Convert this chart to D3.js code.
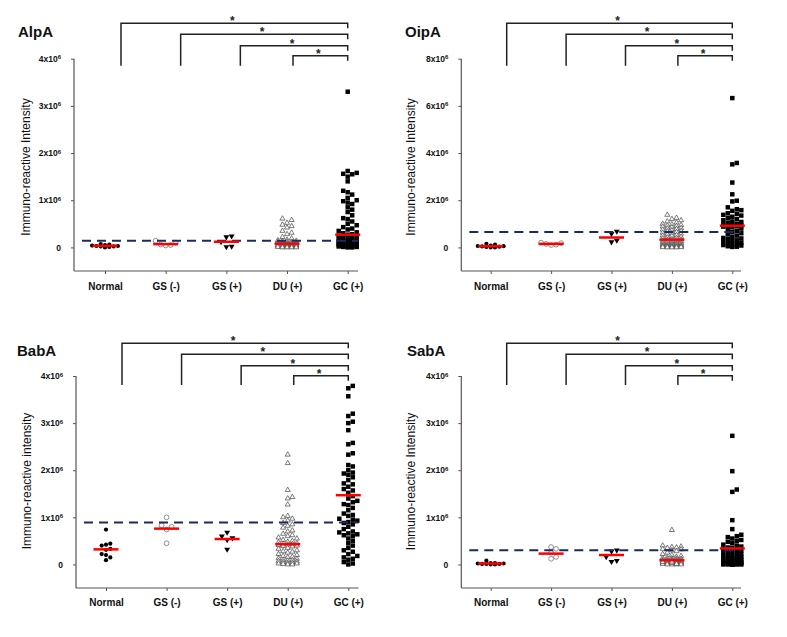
<!DOCTYPE html>
<html>
<head>
<meta charset="utf-8">
<script src="https://cdn.jsdelivr.net/npm/d3@7"></script>
<style>
  html, body { margin: 0; padding: 0; background: #fff; }
  svg { display: block; font-family: Arial, "Liberation Sans", sans-serif; }
</style>
</head>
<body>
<svg id="chart" width="787" height="637"></svg>
<script>
// ---------------- data (values in units of 10^6) ----------------
const categories = ["Normal", "GS (-)", "GS (+)", "DU (+)", "GC (+)"];
const panelTitles = ["AlpA", "OipA", "BabA", "SabA"];
const yAxisLabels = ["Immuno-reactive Intensity", "Immuno-reactive Intensity", "Immuno-reactive intensity", "Immuno-reactive Intensity"];
const yTicksAlpA = [0, 1, 2, 3, 4];
const yTicksOipA = [0, 2, 4, 6, 8];
const yTicksBabA = [0, 1, 2, 3, 4];
const yTicksSabA = [0, 1, 2, 3, 4];
const tickExponent = "6";
const cutoffs = [0.14, 0.65, 0.89, 0.30];
const comparisons = [["Normal", "GC (+)"], ["GS (-)", "GC (+)"], ["GS (+)", "GC (+)"], ["DU (+)", "GC (+)"]];
const comparisonMarks = ["*", "*", "*", "*"];

// medians (red bars) per category
const medAlpA = [0.035, 0.07, 0.12, 0.08, 0.27];
const medOipA = [0.05, 0.15, 0.42, 0.33, 0.92];
const medBabA = [0.32, 0.76, 0.54, 0.43, 1.47];
const medSabA = [0.02, 0.23, 0.20, 0.09, 0.34];

// AlpA
const alpANormal = [0.0, 0.01, 0.02, 0.02, 0.03, 0.04, 0.05, 0.06, 0.07, 0.03];
const alpAGSneg = [0.04, 0.05, 0.06, 0.10, 0.14];
const alpAGSpos = [0.01, 0.02, 0.12, 0.22, 0.24];
const alpADU = [0.61, 0.58, 0.52, 0.48, 0.45, 0.42, 0.35, 0.31, 0.28, 0.22, 0.19, 0.16, 0.15, 0.14, 0.13, 0.12, 0.12, 0.11, 0.10, 0.10, 0.09, 0.09, 0.08, 0.08, 0.08, 0.07, 0.07, 0.06, 0.06, 0.05, 0.05, 0.05, 0.04, 0.04, 0.04, 0.03, 0.03, 0.03, 0.02, 0.02, 0.02, 0.02, 0.01, 0.01, 0.01, 0.01, 0.0, 0.0, 0.0, 0.0];
const alpAGC = [3.30, 1.62, 1.58, 1.56, 1.55, 1.50, 1.40, 1.20, 1.17, 1.12, 1.05, 1.00, 0.98, 0.95, 0.92, 0.85, 0.80, 0.75, 0.68, 0.62, 0.60, 0.55, 0.50, 0.47, 0.43, 0.40, 0.38, 0.35, 0.32, 0.30, 0.28, 0.27, 0.25, 0.24, 0.22, 0.20, 0.20, 0.18, 0.17, 0.15, 0.15, 0.14, 0.13, 0.12, 0.12, 0.10, 0.10, 0.09, 0.08, 0.07, 0.06, 0.06, 0.05, 0.04, 0.04, 0.03, 0.03, 0.02, 0.02, 0.01, 0.01, 0.0, 0.0];

// OipA
const oipANormal = [0.0, 0.0, 0.02, 0.03, 0.04, 0.05, 0.06, 0.08, 0.12, 0.15];
const oipAGSneg = [0.10, 0.12, 0.15, 0.18, 0.20];
const oipAGSpos = [0.23, 0.30, 0.58, 0.68];
const oipADU = [1.38, 1.25, 1.20, 1.15, 1.10, 1.05, 1.00, 0.98, 0.95, 0.92, 0.90, 0.88, 0.85, 0.82, 0.80, 0.78, 0.75, 0.72, 0.70, 0.68, 0.65, 0.62, 0.60, 0.58, 0.55, 0.52, 0.50, 0.48, 0.45, 0.42, 0.40, 0.38, 0.35, 0.33, 0.32, 0.30, 0.28, 0.27, 0.25, 0.24, 0.22, 0.20, 0.20, 0.18, 0.17, 0.15, 0.14, 0.13, 0.12, 0.10, 0.10, 0.09, 0.08, 0.07, 0.06, 0.05, 0.05, 0.04, 0.03, 0.03, 0.02, 0.02, 0.01, 0.01, 0.0, 0.0, 0.0];
const oipAGC = [6.33, 3.58, 3.52, 2.75, 2.25, 1.98, 1.95, 1.70, 1.62, 1.58, 1.55, 1.45, 1.42, 1.38, 1.35, 1.30, 1.25, 1.20, 1.15, 1.10, 1.08, 1.05, 1.00, 0.98, 0.95, 0.93, 0.92, 0.90, 0.88, 0.85, 0.80, 0.75, 0.70, 0.65, 0.60, 0.55, 0.50, 0.45, 0.40, 0.38, 0.35, 0.30, 0.28, 0.25, 0.20, 0.18, 0.15, 0.12, 0.10, 0.08, 0.05, 0.03, 0.02];

// BabA
const babANormal = [0.74, 0.44, 0.42, 0.40, 0.33, 0.31, 0.22, 0.20, 0.15, 0.09];
const babAGSneg = [1.00, 0.83, 0.80, 0.74, 0.45];
const babAGSpos = [0.68, 0.60, 0.56, 0.52, 0.32];
const babADU = [2.33, 2.15, 1.58, 1.43, 1.40, 1.27, 1.03, 1.00, 0.97, 0.93, 0.88, 0.85, 0.82, 0.78, 0.72, 0.70, 0.65, 0.62, 0.60, 0.57, 0.55, 0.52, 0.50, 0.48, 0.47, 0.45, 0.44, 0.43, 0.42, 0.41, 0.40, 0.39, 0.38, 0.35, 0.33, 0.30, 0.28, 0.27, 0.25, 0.22, 0.20, 0.18, 0.16, 0.15, 0.13, 0.12, 0.10, 0.09, 0.08, 0.07, 0.06, 0.05, 0.04, 0.03, 0.02, 0.02, 0.01, 0.0, 0.0];
const babAGC = [3.79, 3.74, 3.57, 3.20, 3.15, 3.03, 3.00, 2.85, 2.58, 2.55, 2.36, 2.33, 2.11, 2.08, 2.00, 1.95, 1.93, 1.90, 1.85, 1.79, 1.72, 1.70, 1.65, 1.60, 1.57, 1.52, 1.45, 1.40, 1.35, 1.32, 1.28, 1.26, 1.20, 1.15, 1.08, 1.05, 1.03, 0.97, 0.95, 0.93, 0.90, 0.88, 0.85, 0.80, 0.75, 0.70, 0.68, 0.66, 0.64, 0.62, 0.60, 0.55, 0.50, 0.45, 0.40, 0.35, 0.30, 0.27, 0.22, 0.18, 0.15, 0.12, 0.10, 0.05, 0.02, 0.0];

// SabA
const sabANormal = [0.0, 0.0, 0.01, 0.01, 0.01, 0.02, 0.02, 0.03, 0.03, 0.08];
const sabAGSneg = [0.37, 0.33, 0.25, 0.16, 0.12];
const sabAGSpos = [0.30, 0.28, 0.16, 0.08, 0.06];
const sabADU = [0.73, 0.40, 0.38, 0.37, 0.36, 0.35, 0.33, 0.32, 0.30, 0.28, 0.25, 0.22, 0.20, 0.18, 0.16, 0.15, 0.14, 0.13, 0.12, 0.12, 0.11, 0.10, 0.10, 0.09, 0.09, 0.08, 0.08, 0.07, 0.07, 0.06, 0.06, 0.05, 0.05, 0.04, 0.04, 0.03, 0.03, 0.02, 0.02, 0.02, 0.01, 0.01, 0.0, 0.0, 0.0, 0.0, 0.01, 0.03, 0.05, 0.06];
const sabAGC = [2.73, 1.98, 1.59, 1.54, 0.94, 0.75, 0.63, 0.60, 0.58, 0.55, 0.52, 0.50, 0.48, 0.45, 0.42, 0.40, 0.38, 0.36, 0.35, 0.33, 0.32, 0.30, 0.28, 0.27, 0.25, 0.24, 0.22, 0.20, 0.20, 0.18, 0.17, 0.15, 0.15, 0.14, 0.12, 0.12, 0.10, 0.10, 0.09, 0.08, 0.07, 0.06, 0.05, 0.05, 0.04, 0.03, 0.03, 0.02, 0.02, 0.01, 0.01, 0.0, 0.0, 0.0, 0.0, 0.0, 0.0, 0.0, 0.0];

// ---------------- layout ----------------
const layouts = [
  { ox: 74,    yTop: 58.7, xAxisY: 271, cx0: 105,   cx1: 347.7, xEnd: 358,   titleX: 18,  titleY: 37,  ylabX: 26,   ylabY: 167,   catY: 289.5, brY: [23.3, 34.3, 45.7, 55.7],     brBottom: 65.7 },
  { ox: 461.3, yTop: 58.7, xAxisY: 271, cx0: 490.7, cx1: 732.3, xEnd: 741,   titleX: 405, titleY: 37,  ylabX: 410.5, ylabY: 167,  catY: 289.5, brY: [23.3, 34.3, 45.7, 55.7],     brBottom: 65.7 },
  { ox: 76,    yTop: 376,  xAxisY: 588, cx0: 106,   cx1: 348.3, xEnd: 358.5, titleX: 17,  titleY: 356, ylabX: 26.5, ylabY: 481,   catY: 606,   brY: [343.3, 354.3, 365.7, 375.7], brBottom: 385 },
  { ox: 461.3, yTop: 376,  xAxisY: 588, cx0: 490.7, cx1: 732.3, xEnd: 741,   titleX: 407, titleY: 356, ylabX: 410.5, ylabY: 481.5, catY: 606,  brY: [343.3, 354.3, 365.7, 375.7], brBottom: 385 }
];
const bracketLeftShift = [16, 15, 14, 6];

const panelData = [
  [alpANormal, alpAGSneg, alpAGSpos, alpADU, alpAGC],
  [oipANormal, oipAGSneg, oipAGSpos, oipADU, oipAGC],
  [babANormal, babAGSneg, babAGSpos, babADU, babAGC],
  [sabANormal, sabAGSneg, sabAGSpos, sabADU, sabAGC]
];
const panelMedians = [medAlpA, medOipA, medBabA, medSabA];
const panelTicks = [yTicksAlpA, yTicksOipA, yTicksBabA, yTicksSabA];

// marker styles per category
const markerStyles = [
  { type: d3.symbolCircle,   size: 14, fill: "#000", stroke: "none", rot: 0, diam: 4.3 },
  { type: d3.symbolCircle,   size: 18, fill: "#fff", stroke: "#666", rot: 0, diam: 5.0 },
  { type: d3.symbolTriangle, size: 15, fill: "#000", stroke: "none", rot: 180, diam: 5.3 },
  { type: d3.symbolTriangle, size: 11, fill: "#fff", stroke: "#444", rot: 0, diam: 4.6 },
  { type: d3.symbolSquare,   size: 20, fill: "#000", stroke: "none", rot: 0, diam: 4.5 }
];

const svg = d3.select("#chart");
svg.append("rect").attr("width", 787).attr("height", 637).attr("fill", "#fff");

function dodge(ys, diam, maxHalf) {
  const order = d3.range(ys.length).sort((a, b) => ys[b] - ys[a]);
  const placed = [];
  const xs = new Array(ys.length);
  const step = diam;
  const kMax = Math.floor(maxHalf / step);
  for (const i of order) {
    const y = ys[i];
    let best = 0, bestD = -1, found = false;
    for (let k = 0; k <= kMax && !found; k++) {
      const cands = k === 0 ? [0] : [k * step, -k * step];
      for (const cx of cands) {
        let d = Infinity;
        for (const p of placed) {
          const m = Math.max(Math.abs(p.x - cx), Math.abs(p.y - y));
          if (m < d) d = m;
        }
        if (d >= diam) { best = cx; found = true; break; }
        if (d > bestD) { bestD = d; best = cx; }
      }
    }
    placed.push({ x: best, y });
    xs[i] = best;
  }
  return xs;
}

panelTitles.forEach((title, pi) => {
  const L = layouts[pi];
  const ticks = panelTicks[pi];
  const yMax = ticks[ticks.length - 1];
  const y = d3.scaleLinear().domain([-yMax / 8, yMax]).range([L.xAxisY, L.yTop]);
  const x = d3.scalePoint().domain(categories).range([L.cx0, L.cx1]);
  const g = svg.append("g");

  // title
  g.append("text").attr("x", L.titleX).attr("y", L.titleY)
    .attr("font-size", 15).attr("font-weight", "bold").attr("fill", "#111").text(title);

  // y-axis label
  g.append("text")
    .attr("transform", `translate(${L.ylabX},${L.ylabY}) rotate(-90)`)
    .attr("text-anchor", "middle").attr("dy", "0.35em")
    .attr("font-size", 12).attr("fill", "#111").text(yAxisLabels[pi]);

  // y axis
  const yAxis = d3.axisLeft(y).tickValues(ticks).tickSize(3).tickPadding(10).tickSizeOuter(0);
  const ya = g.append("g").attr("transform", `translate(${L.ox},0)`).call(yAxis);
  ya.select(".domain").remove();
  ya.selectAll(".tick line").attr("stroke", "#555");
  ya.selectAll(".tick text").each(function (d) {
    const t = d3.select(this);
    t.text(null).attr("font-size", 8.5).attr("font-weight", "bold").attr("fill", "#111")
      .attr("font-family", "Arial, 'Liberation Sans', sans-serif");
    if (d === 0) {
      t.append("tspan").text("0");
    } else {
      t.append("tspan").text(d + "x10");
      t.append("tspan").attr("font-size", 6).attr("dy", "-0.45em").text(tickExponent);
    }
  });
  g.append("line").attr("x1", L.ox).attr("x2", L.ox)
    .attr("y1", y(yMax)).attr("y2", L.xAxisY).attr("stroke", "#555").attr("stroke-width", 1.2);

  // x axis
  const xAxis = d3.axisBottom(x).tickSize(3).tickPadding(9).tickSizeOuter(0);
  const xa = g.append("g").attr("transform", `translate(0,${L.xAxisY})`).call(xAxis);
  xa.select(".domain").remove();
  xa.selectAll(".tick line").attr("stroke", "#555");
  xa.selectAll(".tick text").attr("font-size", 10).attr("font-weight", "bold").attr("fill", "#111")
    .attr("font-family", "Arial, 'Liberation Sans', sans-serif")
    .attr("y", null).attr("dy", null)
    .attr("transform", `translate(0,${L.catY - L.xAxisY})`);
  g.append("line").attr("x1", L.ox).attr("x2", L.xEnd)
    .attr("y1", L.xAxisY).attr("y2", L.xAxisY).attr("stroke", "#555").attr("stroke-width", 1.2);

  // comparison brackets
  comparisons.forEach((c, ci) => {
    const x1 = x(c[0]) + bracketLeftShift[ci], x2 = x(c[1]), by = L.brY[ci];
    g.append("path")
      .attr("d", `M${x1},${L.brBottom}V${by}H${x2}V${by + 5}`)
      .attr("fill", "none").attr("stroke", "#222").attr("stroke-width", 1.5);
    g.append("text").attr("x", (x1 + x2) / 2 - 2).attr("y", by + 2)
      .attr("text-anchor", "middle").attr("font-size", 12).attr("font-weight", "bold")
      .attr("fill", "#222").text(comparisonMarks[ci]);
  });

  // points
  categories.forEach((cat, ci) => {
    const vals = panelData[pi][ci];
    const st = markerStyles[ci];
    const ys = vals.map(v => y(v));
    const xs = dodge(ys, st.diam, 13);
    const sym = d3.symbol().type(st.type).size(st.size);
    g.append("g").selectAll("path").data(vals).join("path")
      .attr("d", sym)
      .attr("transform", (d, i) => `translate(${x(cat) + xs[i]},${ys[i]}) rotate(${st.rot})`)
      .attr("fill", st.fill).attr("stroke", st.stroke).attr("stroke-width", 0.7);
  });

  // cutoff dashed line
  g.append("line").attr("x1", L.ox + 8).attr("x2", L.xEnd)
    .attr("y1", y(cutoffs[pi])).attr("y2", y(cutoffs[pi]))
    .attr("stroke", "#1b2a63").attr("stroke-width", 2).attr("stroke-dasharray", "9,6");

  // median bars
  g.append("g").selectAll("line").data(panelMedians[pi]).join("line")
    .attr("x1", (d, i) => x(categories[i]) - 12.5)
    .attr("x2", (d, i) => x(categories[i]) + 12.5)
    .attr("y1", d => y(d)).attr("y2", d => y(d))
    .attr("stroke", "#ff0000").attr("stroke-width", 2.5);
});
</script>
</body>
</html>
